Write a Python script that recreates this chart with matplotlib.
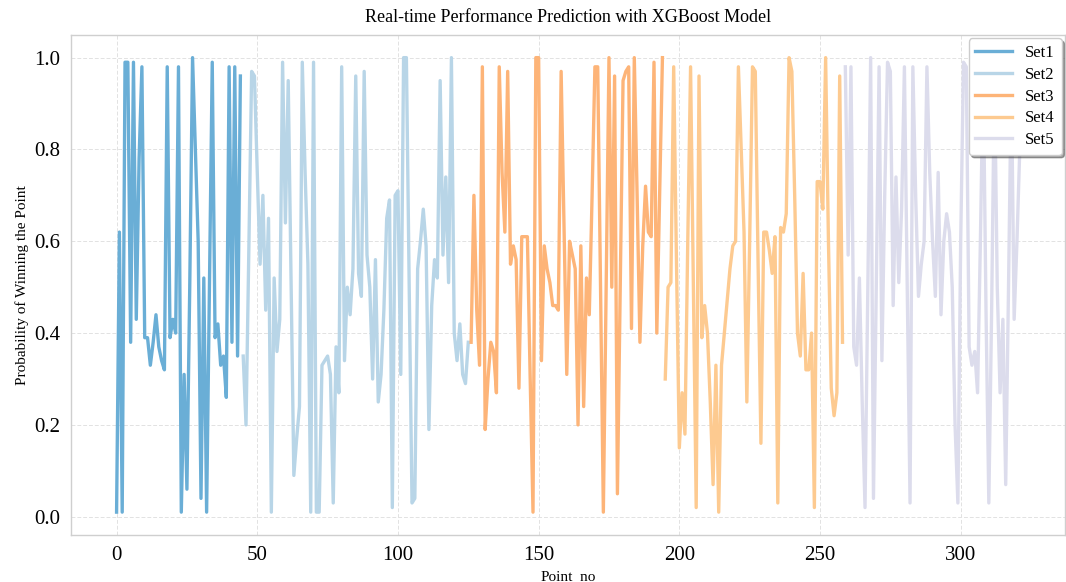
import numpy as np
import matplotlib
matplotlib.use("Agg")
from matplotlib import pyplot as plt

# probability of winning each point, split by set
set1 = [0.01, 0.62, 0.01, 0.99, 0.99, 0.38, 0.99, 0.43, 0.78, 0.98,
        0.39, 0.39, 0.33, 0.38, 0.44, 0.37, 0.34, 0.32, 0.98, 0.39,
        0.43, 0.40, 0.98, 0.01, 0.31, 0.06, 0.50, 1.00, 0.80, 0.60,
        0.04, 0.52, 0.01, 0.50, 0.99, 0.39, 0.42, 0.33, 0.35, 0.26,
        0.98, 0.38, 0.98, 0.35, 0.96]
set2 = [0.35, 0.20, 0.58, 0.97, 0.96, 0.75, 0.55, 0.70, 0.45, 0.65,
        0.01, 0.52, 0.36, 0.43, 0.99, 0.64, 0.95, 0.52, 0.09, 0.17,
        0.24, 0.99, 0.75, 0.55, 0.01, 0.99, 0.01, 0.01, 0.33, 0.34,
        0.35, 0.31, 0.03, 0.37, 0.27, 0.98, 0.34, 0.50, 0.44, 0.54,
        0.96, 0.53, 0.48, 0.97, 0.57, 0.50, 0.30, 0.56, 0.25, 0.31,
        0.45, 0.65, 0.69, 0.02, 0.70, 0.71, 0.31, 1.00, 1.00, 0.50,
        0.03, 0.04, 0.54, 0.60, 0.67, 0.59, 0.19, 0.46, 0.56, 0.52,
        0.95, 0.57, 0.74, 0.51, 1.00, 0.40, 0.34, 0.42, 0.31, 0.29,
        0.38]
set3 = [0.38, 0.70, 0.45, 0.33, 0.98, 0.19, 0.30, 0.38, 0.36, 0.27,
        0.98, 0.75, 0.62, 0.97, 0.55, 0.59, 0.56, 0.28, 0.61, 0.61,
        0.61, 0.30, 0.01, 1.00, 1.00, 0.34, 0.59, 0.54, 0.51, 0.46,
        0.46, 0.45, 0.97, 0.64, 0.31, 0.60, 0.57, 0.54, 0.20, 0.59,
        0.24, 0.52, 0.44, 0.70, 0.98, 0.98, 0.50, 0.01, 0.50, 1.00,
        0.50, 0.96, 0.05, 0.50, 0.95, 0.97, 0.98, 0.41, 1.00, 0.70,
        0.38, 0.59, 0.72, 0.62, 0.61, 0.99, 0.40, 0.70, 1.00]
set4 = [0.30, 0.50, 0.51, 0.98, 0.55, 0.15, 0.27, 0.18, 0.60, 0.98,
        0.50, 0.02, 0.96, 0.39, 0.46, 0.40, 0.25, 0.07, 0.33, 0.01,
        0.33, 0.40, 0.47, 0.54, 0.59, 0.60, 0.98, 0.80, 0.62, 0.25,
        0.60, 0.98, 0.97, 0.55, 0.16, 0.62, 0.62, 0.58, 0.53, 0.61,
        0.03, 0.63, 0.62, 0.66, 1.00, 0.97, 0.70, 0.40, 0.35, 0.53,
        0.32, 0.32, 0.40, 0.02, 0.73, 0.73, 0.67, 1.00, 0.60, 0.28,
        0.22, 0.27, 0.96, 0.38]
set5 = [0.98, 0.57, 0.98, 0.37, 0.33, 0.52, 0.25, 0.02, 0.50, 1.00,
        0.04, 0.50, 0.98, 0.34, 0.70, 0.99, 0.97, 0.46, 0.74, 0.51,
        0.67, 0.98, 0.50, 0.03, 0.98, 0.70, 0.48, 0.55, 0.60, 0.98,
        0.75, 0.60, 0.48, 0.75, 0.44, 0.60, 0.66, 0.62, 0.50, 0.20,
        0.03, 0.60, 0.99, 0.98, 0.37, 0.33, 0.36, 0.27, 0.60, 0.97,
        0.45, 0.03, 0.45, 0.97, 0.50, 0.27, 0.43, 0.07, 0.50, 0.96,
        0.43, 0.60, 0.80]

sets = [set1, set2, set3, set4, set5]
labels = ['Set1', 'Set2', 'Set3', 'Set4', 'Set5']
colors = ['#6aaed6', '#b8d5e7', '#fdb478', '#fdca90', '#dcdcec']

plt.rcParams['font.family'] = ['Liberation Serif', 'DejaVu Serif']

fig, ax = plt.subplots(figsize=(10.66, 5.82), dpi=100)
fig.subplots_adjust(left=0.067, right=0.999, top=0.94, bottom=0.081)

start = 0
for vals, lab, col in zip(sets, labels, colors):
    x = np.arange(start, start + len(vals))
    ax.plot(x, vals, color=col, lw=2.4, label=lab)
    start += len(vals)

ax.set_title('Real-time Performance Prediction with XGBoost Model', fontsize=13, pad=9)
ax.set_xlabel('Point_no', fontsize=11)
ax.set_ylabel('Probability of Winning the Point', fontsize=11)
ax.tick_params(labelsize=15, length=0, pad=8)
ax.set_yticks([0.0, 0.2, 0.4, 0.6, 0.8, 1.0])

ax.grid(True, color='#e2e2e2', lw=0.7, ls=(0, (4, 2)))
ax.set_axisbelow(True)
for s in ax.spines.values():
    s.set_color('#cfcfcf')
    s.set_linewidth(1.0)

leg = ax.legend(loc='upper right', fontsize=12, shadow=True, fancybox=True,
                framealpha=1, edgecolor='#cccccc', borderaxespad=0.2,
                labelspacing=0.35, handlelength=2.2)

fig.savefig('out.png', dpi=100)
